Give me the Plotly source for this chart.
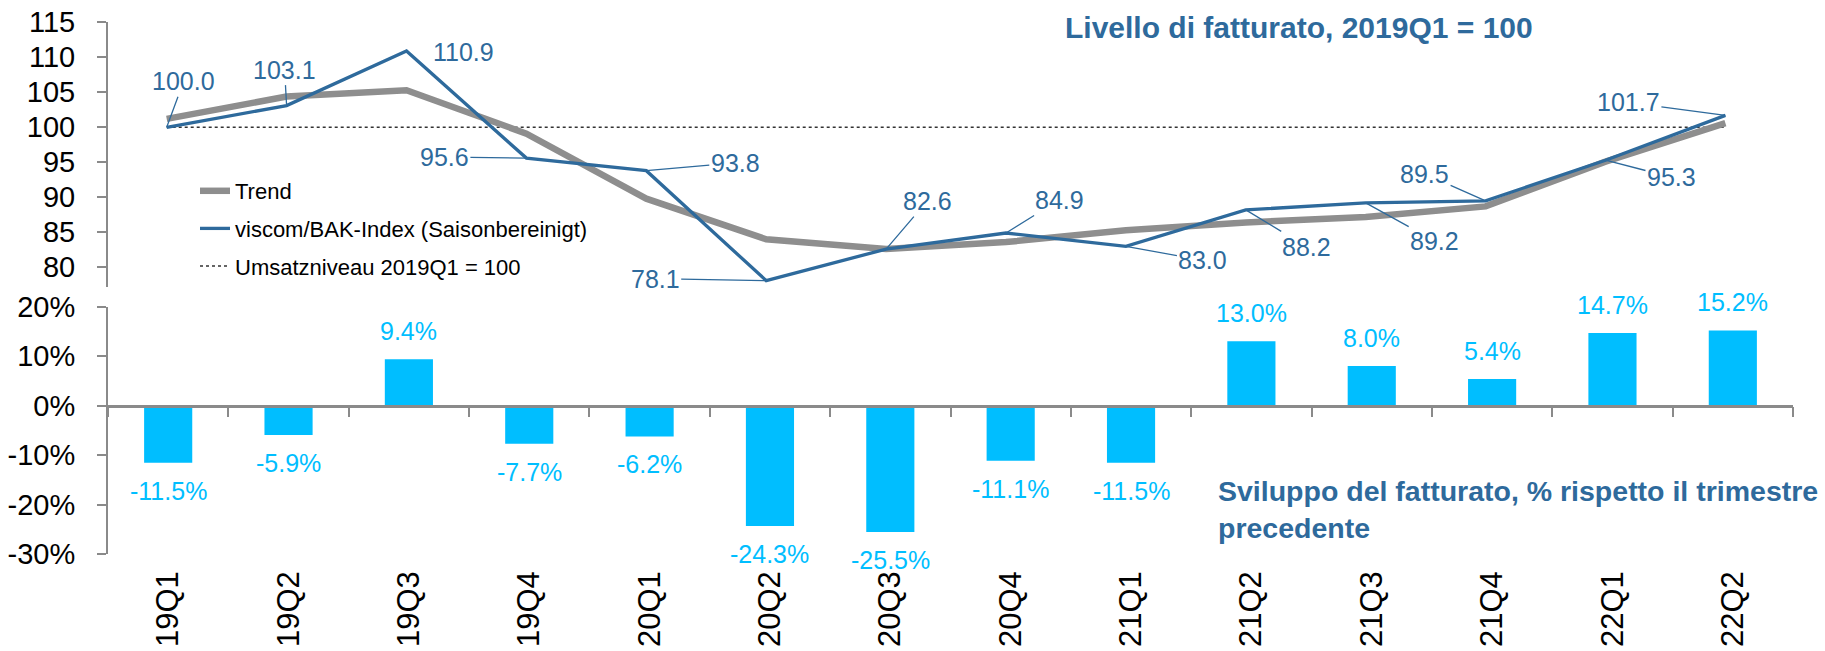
import plotly.graph_objects as go

# ---------------- data ----------------
quarters = ["19Q1", "19Q2", "19Q3", "19Q4", "20Q1", "20Q2", "20Q3",
            "20Q4", "21Q1", "21Q2", "21Q3", "21Q4", "22Q1", "22Q2"]
index_values = [100.0, 103.1, 110.9, 95.6, 93.8, 78.1, 82.6,
                84.9, 83.0, 88.2, 89.2, 89.5, 95.3, 101.7]
trend_values = [101.2, 104.4, 105.3, 99.1, 89.8, 84.0, 82.6,
                83.6, 85.3, 86.4, 87.2, 88.7, 95.1, 100.6]
baseline_values = [100] * 14
growth_pct = [-11.5, -5.9, 9.4, -7.7, -6.2, -24.3, -25.5,
              -11.1, -11.5, 13.0, 8.0, 5.4, 14.7, 15.2]
level_ticks = [80, 85, 90, 95, 100, 105, 110, 115]
pct_ticks = [-30, -20, -10, 0, 10, 20]
pct_tick_labels = ["-30%", "-20%", "-10%", "0%", "10%", "20%"]

# label placement offsets (pixels) for the index labels
label_dx = [17, -2, 57, -82, 89, -111, 41, 53, 77, 61, 69, -61, 66, -97]
label_dy = [-46, -36, 1, -1, -8, -2, -48, -33, 14, 37, 38, -27, 17, -13]
label_leader = [True, True, False, True, True, True, True, True, True, True, True, True, True, True]

# ---------------- styling ----------------
W, H = 1825, 651
BLUE = "#2E6A9C"
GRAY = "#8E8E8E"
CYAN = "#00BEFF"
AXIS = "#8A8A8A"
FONT = "Liberation Sans, Arial, sans-serif"


def fx(p):
    return p / W


def fy(p):
    return 1 - p / H


fig = go.Figure()

# top panel lines
fig.add_trace(go.Scatter(
    x=quarters, y=baseline_values, mode="lines", name="Umsatzniveau 2019Q1 = 100",
    line=dict(color="#333333", width=1.5, dash="dot"),
    xaxis="x2", yaxis="y2", legendrank=3, legendgroup="c", hoverinfo="skip"))
fig.add_trace(go.Scatter(
    x=quarters, y=trend_values, mode="lines", name="Trend",
    line=dict(color=GRAY, width=6.5),
    xaxis="x2", yaxis="y2", legendrank=1, legendgroup="a"))
fig.add_trace(go.Scatter(
    x=quarters, y=index_values, mode="lines", name="viscom/BAK-Index (Saisonbereinigt)",
    line=dict(color=BLUE, width=3.3),
    xaxis="x2", yaxis="y2", legendrank=2, legendgroup="b"))

# bottom panel bars
fig.add_trace(go.Bar(
    x=quarters, y=growth_pct, marker=dict(color=CYAN, line=dict(width=0)),
    xaxis="x", yaxis="y", showlegend=False, width=0.4))

# invisible trace carrying category labels at the bottom
fig.add_trace(go.Scatter(
    x=quarters, y=[0] * len(quarters), mode="markers", marker=dict(opacity=0),
    xaxis="x3", yaxis="y", showlegend=False, hoverinfo="skip"))

annotations = []
for q, v, dx, dy, lead in zip(quarters, index_values, label_dx, label_dy, label_leader):
    annotations.append(dict(
        x=q, y=v, xref="x2", yref="y2", text=f"{v:.1f}",
        showarrow=True, ax=dx, ay=dy, arrowhead=0, arrowwidth=1.3,
        arrowcolor=BLUE if lead else "rgba(0,0,0,0)", standoff=0, startstandoff=0,
        font=dict(family=FONT, size=25, color=BLUE)))

for q, v in zip(quarters, growth_pct):
    annotations.append(dict(
        x=q, y=v, xref="x", yref="y", text=f"{v:.1f}%", showarrow=False,
        yshift=28 if v >= 0 else -28,
        font=dict(family=FONT, size=25, color=CYAN)))

annotations.append(dict(
    x=fx(1299), y=fy(27), xref="paper", yref="paper", showarrow=False,
    text="<b>Livello di fatturato, 2019Q1 = 100</b>", xanchor="center", yanchor="middle",
    font=dict(family=FONT, size=30, color=BLUE)))
annotations.append(dict(
    x=fx(1216), y=fy(509), xref="paper", yref="paper", showarrow=False,
    text="<b>Sviluppo del fatturato, % rispetto il trimestre<br>precedente</b>",
    xanchor="left", yanchor="middle", align="left",
    font=dict(family=FONT, size=28.5, color=BLUE)))

x_dom = [fx(108), fx(1793)]
top_left = (108 - 166.7) / 119.9
top_right = (1793 - 166.7) / 119.9

fig.update_layout(
    width=W, height=H,
    margin=dict(l=0, r=0, t=0, b=0, pad=0, autoexpand=False),
    paper_bgcolor="white", plot_bgcolor="white",
    font=dict(family=FONT, color="black"),
    bargap=0.6,
    showlegend=True,
    legend=dict(x=fx(195), y=fy(170), xanchor="left", yanchor="top",
                font=dict(family=FONT, size=22, color="black"),
                bgcolor="rgba(0,0,0,0)", tracegroupgap=6, traceorder="grouped"),
    annotations=annotations,
    xaxis=dict(domain=x_dom, type="category", range=[-0.5, 13.5],
               anchor="free", position=fy(405.7), automargin=False,
               showline=True, linecolor=AXIS, linewidth=2.5,
               ticks="outside", ticklen=10, tickwidth=2, tickcolor=AXIS,
               tickson="boundaries", showticklabels=False, showgrid=False,
               zeroline=False, fixedrange=True),
    xaxis3=dict(domain=x_dom, type="category", range=[-0.5, 13.5],
                overlaying="x", anchor="free", position=fy(564), automargin=False,
                showline=False, ticks="", showgrid=False, zeroline=False,
                tickangle=-90, tickfont=dict(family=FONT, size=31, color="black")),
    yaxis=dict(domain=[fy(554.2), fy(306.7)], range=[-30, 20], anchor="x",
               automargin=False,
               tickvals=pct_ticks, ticktext=pct_tick_labels,
               showline=True, linecolor=AXIS, linewidth=2,
               ticks="outside", ticklen=9, tickwidth=2, tickcolor=AXIS,
               ticklabelstandoff=16,
               tickfont=dict(family=FONT, size=29, color="black"),
               showgrid=False, zeroline=False),
    xaxis2=dict(domain=x_dom, type="category", range=[top_left, top_right],
                anchor="y2", visible=False, showgrid=False, zeroline=False,
                automargin=False),
    yaxis2=dict(domain=[fy(286.9), fy(22.3)], range=[77.2, 115], anchor="x2",
                automargin=False,
                tickvals=level_ticks,
                showline=True, linecolor=AXIS, linewidth=2,
                ticks="outside", ticklen=9, tickwidth=2, tickcolor=AXIS,
                ticklabelstandoff=16,
                tickfont=dict(family=FONT, size=29, color="black"),
                showgrid=False, zeroline=False),
)

fig.write_html(
    "out.html",
    config={"displayModeBar": False},
    post_script="document.body.style.margin='0px';document.body.style.overflow='hidden';",
)
